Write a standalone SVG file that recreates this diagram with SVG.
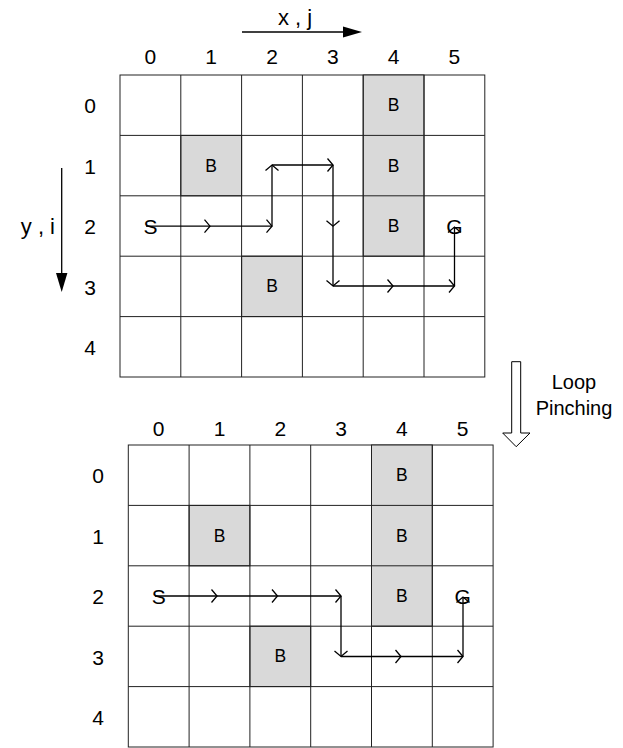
<svg xmlns="http://www.w3.org/2000/svg" width="623" height="748" viewBox="0 0 623 748">
  <style>
    text { font-family: "Liberation Sans", Arial, sans-serif; fill: #000; }
    .num { font-size: 21px; text-anchor: middle; }
    .blk { font-size: 17.5px; text-anchor: middle; }
    .lbl { font-size: 22px; }
    .cell { fill: #fff; stroke: #222; stroke-width: 1; }
    .wall { fill: #d9d9d9; stroke: #222; stroke-width: 1; }
    .step { stroke: #000; stroke-width: 1.3; fill: none; marker-end: url(#chev); }
    .axis { stroke: #000; stroke-width: 1.3; fill: none; }
  </style>
  <defs>
    <marker id="chev" markerUnits="userSpaceOnUse" markerWidth="14" markerHeight="16" viewBox="-7 -8 14 16" refX="0" refY="0" orient="auto" overflow="visible">
      <path d="M-5.5,-6.5 L0,0 L-5.5,6.5" fill="none" stroke="#000" stroke-width="1.3"/>
    </marker>
  </defs>

  <!-- upper grid: path with a detour -->
  <g id="grid-before" transform="translate(120 75)">
    <rect class="cell" x="0" y="0" width="364.8" height="302"/>
    <rect class="wall" x="60.8" y="60.4" width="60.8" height="60.4"/>
    <rect class="wall" x="243.2" y="0" width="60.8" height="181.2"/>
    <rect class="wall" x="121.6" y="181.2" width="60.8" height="60.4"/>
    <path d="M60.8,0V302M121.6,0V302M182.4,0V302M243.2,0V302M304,0V302M0,60.4H364.8M0,120.8H364.8M0,181.2H364.8M0,241.6H364.8" stroke="#222" stroke-width="1" fill="none"/>
    <text class="blk" x="91.2" y="96.5">B</text>
    <text class="blk" x="273.6" y="36.1">B</text>
    <text class="blk" x="273.6" y="96.5">B</text>
    <text class="blk" x="273.6" y="156.9">B</text>
    <text class="blk" x="152" y="217.3">B</text>
    <text class="num" x="30.4" y="158.5">S</text>
    <text class="num" x="334.4" y="158.5">G</text>
  </g>
  <g id="cols-before">
    <text class="num" x="150.4" y="63.5">0</text>
    <text class="num" x="211.2" y="63.5">1</text>
    <text class="num" x="272" y="63.5">2</text>
    <text class="num" x="332.8" y="63.5">3</text>
    <text class="num" x="393.6" y="63.5">4</text>
    <text class="num" x="454.4" y="63.5">5</text>
  </g>
  <g id="rows-before">
    <text class="num" x="90" y="113">0</text>
    <text class="num" x="90" y="173.5">1</text>
    <text class="num" x="90" y="234">2</text>
    <text class="num" x="90" y="294.5">3</text>
    <text class="num" x="90" y="355">4</text>
  </g>

  <!-- axis arrows -->
  <g id="axis-x">
    <line class="axis" x1="242" y1="32" x2="344" y2="32"/>
    <polygon points="343,26.5 362,32 343,37.5" fill="#000"/>
    <text class="lbl" x="295" y="25" text-anchor="middle">x , j</text>
  </g>
  <g id="axis-y">
    <line class="axis" x1="61.7" y1="168" x2="61.7" y2="274"/>
    <polygon points="56,273 67.4,273 61.7,292" fill="#000"/>
    <text class="lbl" x="55" y="234" text-anchor="end">y , i</text>
  </g>

  <!-- transition arrow -->
  <g id="loop-pinching">
    <path d="M511.7,361.7 H520.7 V433 H530 L516.2,446.7 L502.7,433 H511.7 Z" fill="#fff" stroke="#000" stroke-width="1"/>
    <text x="574" y="389" font-size="20" text-anchor="middle">Loop</text>
    <text x="574" y="415" font-size="20" text-anchor="middle">Pinching</text>
  </g>

  <!-- lower grid: pinched path -->
  <g id="grid-after" transform="translate(128.3 445)">
    <rect class="cell" x="0" y="0" width="364.8" height="302"/>
    <rect class="wall" x="60.8" y="60.4" width="60.8" height="60.4"/>
    <rect class="wall" x="243.2" y="0" width="60.8" height="181.2"/>
    <rect class="wall" x="121.6" y="181.2" width="60.8" height="60.4"/>
    <path d="M60.8,0V302M121.6,0V302M182.4,0V302M243.2,0V302M304,0V302M0,60.4H364.8M0,120.8H364.8M0,181.2H364.8M0,241.6H364.8" stroke="#222" stroke-width="1" fill="none"/>
    <text class="blk" x="91.2" y="96.5">B</text>
    <text class="blk" x="273.6" y="36.1">B</text>
    <text class="blk" x="273.6" y="96.5">B</text>
    <text class="blk" x="273.6" y="156.9">B</text>
    <text class="blk" x="152" y="217.3">B</text>
    <text class="num" x="30.4" y="158.5">S</text>
    <text class="num" x="334.4" y="158.5">G</text>
  </g>
  <g id="cols-after">
    <text class="num" x="158.7" y="435.5">0</text>
    <text class="num" x="219.5" y="435.5">1</text>
    <text class="num" x="280.3" y="435.5">2</text>
    <text class="num" x="341.1" y="435.5">3</text>
    <text class="num" x="401.9" y="435.5">4</text>
    <text class="num" x="462.7" y="435.5">5</text>
  </g>
  <g id="rows-after">
    <text class="num" x="98" y="483">0</text>
    <text class="num" x="98" y="543.5">1</text>
    <text class="num" x="98" y="604">2</text>
    <text class="num" x="98" y="664.5">3</text>
    <text class="num" x="98" y="725">4</text>
  </g>

  <!-- path steps, one segment per move -->
  <g id="connectors">
    <line class="step" x1="146" y1="226.2" x2="210" y2="226.2"/>
    <line class="step" x1="210" y1="226.2" x2="272" y2="226.2"/>
    <line class="step" x1="272" y1="226.2" x2="272" y2="165"/>
    <line class="step" x1="272" y1="165" x2="333" y2="165"/>
    <line class="step" x1="333" y1="165" x2="333" y2="226.2"/>
    <line class="step" x1="333" y1="226.2" x2="333" y2="286"/>
    <line class="step" x1="333" y1="286" x2="393" y2="286"/>
    <line class="step" x1="393" y1="286" x2="454.5" y2="286"/>
    <line class="step" x1="454.5" y1="286" x2="454.5" y2="227"/>

    <line class="step" x1="155" y1="596" x2="217" y2="596"/>
    <line class="step" x1="217" y1="596" x2="277.5" y2="596"/>
    <line class="step" x1="277.5" y1="596" x2="341" y2="596"/>
    <line class="step" x1="341" y1="596" x2="341" y2="656.5"/>
    <line class="step" x1="341" y1="656.5" x2="401" y2="656.5"/>
    <line class="step" x1="401" y1="656.5" x2="463" y2="656.5"/>
    <line class="step" x1="463" y1="656.5" x2="463" y2="597"/>
  </g>
</svg>
